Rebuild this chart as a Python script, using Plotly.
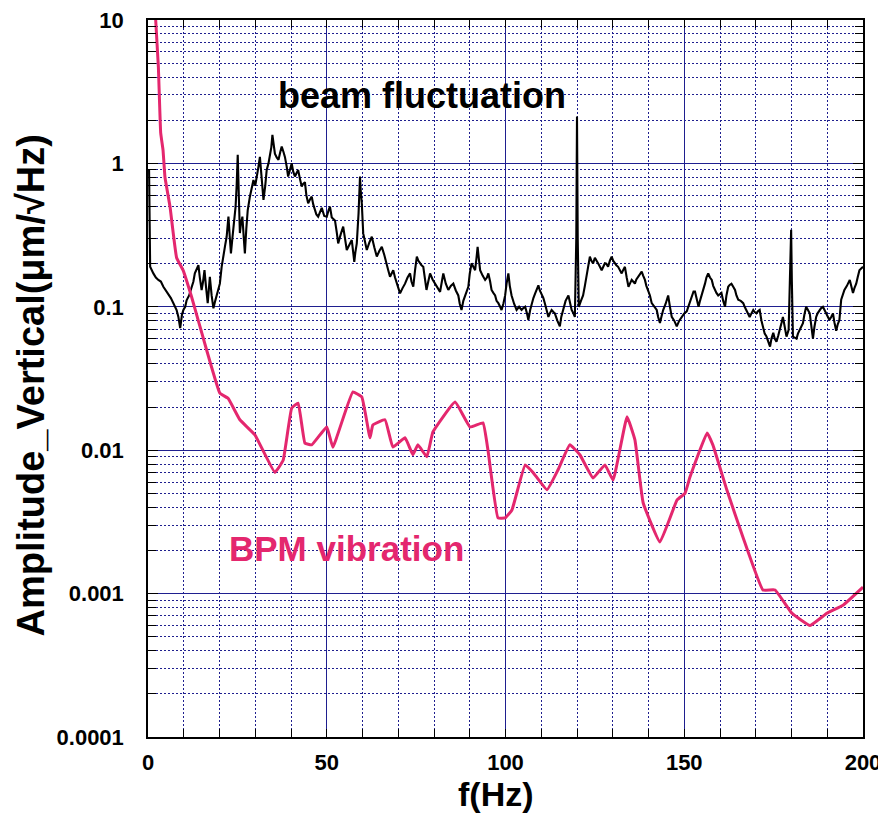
import plotly.graph_objects as go

# ---- data ----
beam_f = [0.3, 0.5, 0.6, 1.5, 2.2, 2.9, 3.6, 4.3, 5.0, 5.7, 6.4, 7.1, 7.6, 8.0, 8.5, 9.0, 9.5, 9.9, 10.4, 10.8,
          11.5, 12.2, 12.7, 13.1, 13.6, 14.1, 14.5, 15.0, 15.4, 15.8, 16.2, 16.7, 17.0, 17.3, 17.8, 18.3, 18.8, 19.2, 19.7, 20.1,
          20.6, 21.1, 21.6, 22.0, 22.5, 22.9, 23.2, 23.6, 23.9, 24.5, 24.8, 25.1, 25.4, 25.7, 26.0, 26.4, 26.8, 27.1, 27.5, 27.9,
          28.5, 29.0, 29.5, 30.0, 30.4, 30.9, 31.3, 31.8, 32.3, 32.8, 33.2, 33.7, 34.1, 34.5, 34.8, 35.2, 35.5, 36.0, 36.5, 37.0,
          37.4, 37.9, 38.3, 38.8, 39.2, 39.7, 40.2, 40.6, 41.1, 41.5, 42.0, 42.5, 43.0, 43.4, 43.9, 44.3, 44.8, 45.3, 45.8, 46.2,
          46.7, 47.1, 47.6, 48.1, 48.6, 49.3, 50.0, 50.5, 50.9, 51.4, 52.3, 52.8, 53.2, 53.9, 54.6, 55.1, 55.6, 56.3, 57.0, 57.4,
          57.7, 58.0, 58.4, 58.9, 59.3, 59.5, 59.8, 60.2, 60.7, 61.2, 61.9, 62.6, 63.3, 64.0, 64.7, 65.4, 66.1, 66.8, 67.2, 67.7,
          68.1, 68.6, 69.1, 69.6, 70.0, 70.5, 71.2, 71.9, 72.6, 73.3, 73.7, 74.2, 74.7, 75.2, 75.6, 76.1, 76.5, 77.0, 77.5, 77.9,
          78.4, 78.9, 79.6, 80.3, 81.0, 81.7, 82.2, 82.6, 83.3, 84.0, 84.7, 85.4, 86.1, 86.8, 87.2, 87.7, 88.2, 88.7, 89.1, 89.6,
          90.0, 90.5, 91.0, 91.5, 91.9, 92.2, 92.6, 92.9, 93.6, 94.3, 94.8, 95.2, 95.7, 96.1, 96.6, 97.1, 97.5, 98.0, 98.5, 98.9,
          99.4, 99.9, 100.3, 100.8, 101.2, 101.7, 102.4, 103.1, 103.8, 104.5, 105.0, 105.5, 106.0, 106.4, 106.9, 107.3, 107.8, 108.3, 108.7, 109.2,
          109.6, 110.1, 110.6, 111.0, 111.5, 112.0, 112.4, 112.9, 113.4, 113.8, 114.5, 115.2, 115.6, 116.1, 116.8, 117.6, 118.0, 118.5, 119.0, 119.4,
          119.8, 120.0, 120.2, 120.5, 121.1, 121.7, 122.2, 122.7, 123.1, 123.6, 124.0, 124.5, 125.0, 125.5, 126.2, 126.9, 127.3, 127.8, 128.2, 128.7,
          129.2, 129.7, 130.1, 130.6, 131.0, 131.5, 132.0, 132.5, 132.9, 133.4, 133.9, 134.4, 134.8, 135.3, 135.7, 136.2, 136.6, 137.1, 137.6, 138.1,
          138.5, 139.0, 139.4, 139.9, 140.4, 140.9, 141.6, 142.3, 142.7, 143.2, 143.6, 144.1, 144.8, 145.5, 146.0, 146.5, 147.2, 147.9, 148.6, 149.3,
          150.0, 150.7, 151.4, 152.1, 152.6, 153.0, 153.5, 154.0, 154.4, 154.9, 155.3, 155.8, 156.2, 156.7, 157.2, 157.7, 158.1, 158.6, 159.0, 159.5,
          160.0, 160.4, 160.9, 161.4, 161.8, 162.3, 162.7, 163.2, 163.7, 164.2, 164.6, 165.1, 165.8, 166.5, 166.9, 167.4, 167.8, 168.3, 168.8, 169.3,
          169.7, 170.2, 170.6, 171.1, 171.6, 172.1, 172.5, 173.0, 173.5, 174.0, 174.4, 174.9, 175.3, 175.8, 176.3, 176.8, 177.2, 177.6, 178.1, 178.6,
          179.2, 179.6, 179.9, 180.1, 180.4, 180.9, 181.4, 181.8, 182.3, 182.7, 183.2, 183.6, 184.1, 184.6, 185.1, 185.5, 186.0, 186.4, 186.9, 187.3,
          187.8, 188.3, 188.8, 189.2, 189.7, 190.1, 190.6, 191.1, 191.6, 192.0, 192.5, 192.9, 193.4, 193.9, 194.3, 194.8, 195.5, 196.3, 196.7, 197.2,
          197.6, 198.1, 198.5, 199.0, 199.5, 200.0]
beam_amp = [0.9, 0.3, 0.19, 0.171, 0.16, 0.154, 0.15, 0.138, 0.13, 0.121, 0.115, 0.106, 0.1, 0.095, 0.085, 0.071, 0.088, 0.095, 0.1, 0.111,
            0.12, 0.138, 0.15, 0.171, 0.185, 0.195, 0.16, 0.131, 0.15, 0.18, 0.14, 0.106, 0.13, 0.162, 0.12, 0.0975, 0.11, 0.12, 0.13, 0.145,
            0.19, 0.236, 0.27, 0.308, 0.425, 0.3, 0.236, 0.3, 0.362, 0.50, 0.7, 1.15, 0.6, 0.327, 0.38, 0.425, 0.3, 0.236, 0.35, 0.473,
            0.586, 0.68, 0.766, 0.7, 0.83, 0.95, 1.11, 0.75, 0.556, 0.7, 0.9, 1.0, 1.11, 1.3, 1.58, 1.3, 1.17, 1.1, 1.06, 1.2,
            1.31, 1.2, 1.11, 0.95, 0.81, 0.9, 1.0, 0.88, 0.81, 0.85, 0.9, 0.78, 0.69, 0.72, 0.74, 0.6, 0.527, 0.56, 0.586, 0.52,
            0.473, 0.44, 0.425, 0.46, 0.49, 0.43, 0.425, 0.47, 0.50, 0.42, 0.40, 0.33, 0.277, 0.32, 0.362, 0.3, 0.249, 0.27, 0.292, 0.24,
            0.206, 0.24, 0.277, 0.45, 0.81, 0.65, 0.527, 0.325, 0.28, 0.249, 0.28, 0.308, 0.26, 0.224, 0.245, 0.262, 0.23, 0.201, 0.18, 0.162,
            0.17, 0.18, 0.16, 0.145, 0.135, 0.124, 0.135, 0.145, 0.16, 0.171, 0.15, 0.138, 0.18, 0.224, 0.21, 0.201, 0.195, 0.19, 0.15, 0.131,
            0.15, 0.171, 0.155, 0.145, 0.135, 0.127, 0.15, 0.171, 0.145, 0.131, 0.14, 0.145, 0.13, 0.12, 0.105, 0.095, 0.11, 0.12, 0.13, 0.138,
            0.17, 0.201, 0.19, 0.18, 0.22, 0.262, 0.21, 0.18, 0.165, 0.154, 0.16, 0.171, 0.15, 0.131, 0.125, 0.12, 0.11, 0.106, 0.1, 0.095,
            0.105, 0.12, 0.145, 0.171, 0.14, 0.12, 0.105, 0.095, 0.1, 0.095, 0.098, 0.10, 0.09, 0.081, 0.095, 0.106, 0.115, 0.124, 0.132, 0.141,
            0.13, 0.123, 0.115, 0.106, 0.095, 0.085, 0.09, 0.095, 0.092, 0.09, 0.08, 0.073, 0.085, 0.095, 0.11, 0.12, 0.105, 0.095, 0.09, 0.085,
            0.3, 2.12, 0.3, 0.10, 0.11, 0.12, 0.14, 0.162, 0.19, 0.224, 0.21, 0.201, 0.22, 0.21, 0.195, 0.18, 0.19, 0.201, 0.2, 0.19,
            0.21, 0.224, 0.21, 0.201, 0.195, 0.19, 0.18, 0.171, 0.18, 0.19, 0.16, 0.138, 0.145, 0.154, 0.15, 0.145, 0.155, 0.162, 0.17, 0.176,
            0.165, 0.154, 0.14, 0.131, 0.12, 0.106, 0.1, 0.095, 0.085, 0.077, 0.085, 0.095, 0.105, 0.12, 0.1, 0.085, 0.08, 0.073, 0.08, 0.085,
            0.09, 0.093, 0.105, 0.12, 0.128, 0.128, 0.11, 0.10, 0.11, 0.12, 0.13, 0.145, 0.16, 0.171, 0.16, 0.154, 0.14, 0.131, 0.125, 0.12,
            0.123, 0.125, 0.11, 0.10, 0.12, 0.138, 0.142, 0.145, 0.138, 0.131, 0.12, 0.112, 0.11, 0.106, 0.1, 0.095, 0.09, 0.085, 0.09, 0.095,
            0.092, 0.09, 0.093, 0.095, 0.08, 0.069, 0.065, 0.062, 0.057, 0.0527, 0.06, 0.066, 0.06, 0.057, 0.063, 0.069, 0.077, 0.085, 0.07, 0.062,
            0.069, 0.15, 0.344, 0.15, 0.062, 0.061, 0.060, 0.065, 0.069, 0.073, 0.077, 0.088, 0.10, 0.095, 0.09, 0.075, 0.06, 0.072, 0.085, 0.09,
            0.095, 0.098, 0.10, 0.095, 0.09, 0.085, 0.081, 0.085, 0.09, 0.078, 0.068, 0.075, 0.081, 0.112, 0.12, 0.131, 0.14, 0.154, 0.14, 0.125,
            0.135, 0.145, 0.16, 0.18, 0.185, 0.19]

bpm_f = [2.15, 2.9, 3.55, 4.2, 4.75, 6.15, 8.0, 9.8, 12.2, 16.4, 20.1, 22.4, 25.7, 29.9, 35.5, 37.8, 40.2, 42.0, 43.9, 45.8,
         50.0, 51.7, 57.3, 59.8, 62.1, 62.9, 66.3, 68.5, 71.9, 74.1, 75.5, 78.0, 79.7, 85.9, 90.1, 93.7, 95.1, 97.9, 99.9, 101.8,
         105.5, 107.7, 111.6, 114.7, 118.0, 120.8, 124.5, 127.8, 130.1, 134.0, 136.2, 138.5, 143.2, 148.0, 150.2, 151.6, 156.4, 158.0, 161.9, 166.4,
         172.0, 175.4, 180.1, 185.2, 189.9, 194.4, 200.0]
bpm_amp = [10.0, 4.7, 1.63, 1.24, 0.80, 0.50, 0.22, 0.18, 0.117, 0.050, 0.025, 0.023, 0.0163, 0.0128, 0.0070, 0.0085, 0.0197, 0.0213, 0.0112, 0.0109,
           0.0145, 0.0105, 0.0255, 0.0235, 0.0122, 0.0150, 0.0163, 0.0105, 0.0122, 0.0093, 0.0109, 0.0090, 0.0134, 0.0217, 0.0145, 0.0155, 0.0100, 0.00337, 0.00337, 0.00383,
           0.0079, 0.0070, 0.0053, 0.0073, 0.0109, 0.0093, 0.0064, 0.0079, 0.0062, 0.0171, 0.0118, 0.0043, 0.00229, 0.0045, 0.0050, 0.0065, 0.0132, 0.0109, 0.0053, 0.00248,
           0.00106, 0.00106, 0.00073, 0.00060, 0.00073, 0.00083, 0.00111]

x_tick_vals = [0, 50, 100, 150, 200]
x_tick_text = ["0", "50", "100", "150", "200"]
y_tick_vals = [0.0001, 0.001, 0.01, 0.1, 1, 10]
y_tick_text = ["0.0001", "0.001", "0.01", "0.1", "1", "10"]

NAVY = "#1f1f8f"
PINK = "#e4276e"
FONT = "Liberation Sans, Arial, sans-serif"
DOTS = "2px,2px"

fig = go.Figure()
fig.add_trace(go.Scatter(x=beam_f, y=beam_amp, mode="lines",
                         line=dict(color="black", width=2.1), name="beam fluctuation"))
fig.add_trace(go.Scatter(x=bpm_f, y=bpm_amp, mode="lines",
                         line=dict(color=PINK, width=3, shape="spline", smoothing=0.3),
                         name="BPM vibration"))

fig.update_layout(
    width=886, height=813,
    margin=dict(l=140, r=31, t=12, b=84, autoexpand=False),
    paper_bgcolor="white", plot_bgcolor="white",
    showlegend=False,
    xaxis=dict(
        range=[0, 200], tickmode="array", tickvals=x_tick_vals, ticktext=x_tick_text,
        showgrid=True, gridcolor=NAVY, gridwidth=1, zeroline=False, automargin=False,
        showline=True, linecolor="black", linewidth=1.5, mirror="ticks",
        ticks="inside", ticklen=8, tickcolor="black", ticklabelstandoff=5,
        ticklabeloverflow="allow",
        tickfont=dict(family=FONT, size=22, color="black", weight="bold"),
        minor=dict(dtick=10, tick0=0, ticks="inside", ticklen=8, tickcolor="black",
                   showgrid=True, gridcolor=NAVY, griddash=DOTS, gridwidth=1),
    ),
    yaxis=dict(
        type="log", range=[-4, 1], tickmode="array", tickvals=y_tick_vals, ticktext=y_tick_text,
        showgrid=True, gridcolor=NAVY, gridwidth=1, zeroline=False, automargin=False,
        showline=True, linecolor="black", linewidth=1.5, mirror="ticks",
        ticks="inside", ticklen=10, tickcolor="black", ticklabelstandoff=18,
        ticklabeloverflow="allow",
        tickfont=dict(family=FONT, size=22, color="black", weight="bold"),
        minor=dict(dtick="D1", ticks="inside", ticklen=8, tickcolor="black",
                   showgrid=True, gridcolor=NAVY, griddash=DOTS, gridwidth=1),
    ),
    annotations=[
        dict(text="Amplitude_Vertical(μm/√Hz)", xref="paper", yref="paper",
             x=-0.164, y=0.49, textangle=-90, showarrow=False,
             xanchor="center", yanchor="middle",
             font=dict(family=FONT, size=38, color="black", weight="bold")),
        dict(text="f(Hz)", xref="paper", yref="paper",
             x=0.487, y=-0.08, showarrow=False, xanchor="center", yanchor="middle",
             font=dict(family=FONT, size=34, color="black", weight="bold")),
        dict(text="beam fluctuation", xref="x", yref="y",
             x=76.6, y=0.477, showarrow=False, xanchor="center", yanchor="middle",
             font=dict(family=FONT, size=36, color="black", weight="bold")),
        dict(text="BPM vibration", xref="x", yref="y",
             x=55.5, y=-2.682, showarrow=False, xanchor="center", yanchor="middle",
             font=dict(family=FONT, size=35, color=PINK, weight="bold")),
    ],
)

fig.write_html("out.html")
